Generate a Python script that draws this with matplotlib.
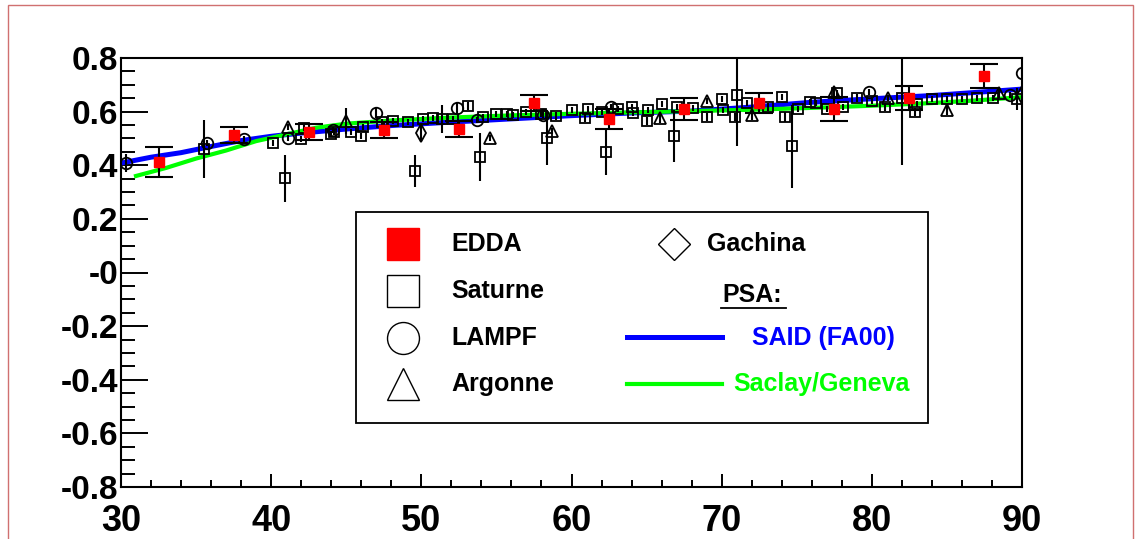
import matplotlib.pyplot as plt
from matplotlib.lines import Line2D
from matplotlib.patches import Rectangle

# analyzing power vs. c.m. angle

# EDDA (red squares with capped error bars)
edda_x = [32.5, 37.5, 42.5, 47.5, 52.5, 57.5, 62.5, 67.5, 72.5, 77.5, 82.5, 87.5]
edda_y = [0.412, 0.513, 0.524, 0.531, 0.535, 0.632, 0.572, 0.610, 0.632, 0.610, 0.651, 0.733]
edda_e = [0.056, 0.03, 0.03, 0.03, 0.03, 0.03, 0.037, 0.04, 0.037, 0.045, 0.045, 0.045]

# Saturne (open squares)
sat_x = [35.5, 40.1, 40.9, 42.0, 42.2, 44.0, 44.2, 45.3, 46.0, 46.1, 47.4, 48.1,
         49.1, 49.6, 50.1, 50.8, 51.4, 52.1, 53.1, 53.9, 54.1, 55.0, 55.7, 56.1,
         57.0, 58.0, 58.4, 59.0, 60.0, 60.9, 61.1, 62.0, 62.3, 63.1, 64.0, 64.1,
         65.0, 65.1, 66.0, 66.8, 67.0, 68.1, 69.0, 70.0, 70.1, 70.9, 71.0, 71.7,
         73.1, 74.0, 74.2, 74.7, 75.1, 75.9, 76.3, 77.0, 77.7, 78.1, 79.0, 80.0,
         80.9, 82.0, 82.9, 83.0, 84.0, 85.0, 86.0, 87.0, 88.1, 89.7]
sat_y = [0.460, 0.483, 0.352, 0.498, 0.539, 0.516, 0.524, 0.524, 0.509, 0.543, 0.561, 0.565,
         0.561, 0.378, 0.572, 0.576, 0.572, 0.572, 0.621, 0.431, 0.580, 0.591, 0.591, 0.587,
         0.598, 0.591, 0.501, 0.584, 0.606, 0.576, 0.610, 0.598, 0.449, 0.610, 0.617, 0.595,
         0.565, 0.606, 0.628, 0.509, 0.617, 0.613, 0.580, 0.647, 0.606, 0.580, 0.662, 0.632,
         0.617, 0.654, 0.580, 0.470, 0.610, 0.636, 0.632, 0.610, 0.669, 0.617, 0.651, 0.640,
         0.617, 0.651, 0.598, 0.628, 0.647, 0.647, 0.647, 0.651, 0.651, 0.647]
sat_e = [0.108, 0.01, 0.088, 0.01, 0.01, 0.01, 0.01, 0.01, 0.01, 0.01, 0.01, 0.01,
         0.01, 0.06, 0.01, 0.01, 0.052, 0.01, 0.015, 0.09, 0.01, 0.01, 0.01, 0.01,
         0.01, 0.01, 0.10, 0.015, 0.01, 0.015, 0.01, 0.01, 0.084, 0.01, 0.01, 0.01,
         0.015, 0.01, 0.01, 0.097, 0.01, 0.01, 0.015, 0.01, 0.01, 0.015, 0.19, 0.01,
         0.015, 0.01, 0.02, 0.155, 0.01, 0.01, 0.01, 0.01, 0.01, 0.01, 0.015, 0.01,
         0.015, 0.25, 0.015, 0.01, 0.01, 0.01, 0.01, 0.01, 0.01, 0.04]

# LAMPF (open circles)
lampf_x = [30.3, 35.7, 38.2, 41.1, 44.1, 47.0, 52.4, 53.7, 58.1, 62.6, 79.8, 89.2, 90.0]
lampf_y = [0.408, 0.483, 0.498, 0.501, 0.531, 0.595, 0.613, 0.569, 0.587, 0.617, 0.673, 0.662, 0.744]
lampf_e = [0.035, 0.01, 0.01, 0.01, 0.01, 0.02, 0.02, 0.01, 0.01, 0.01, 0.01, 0.01, 0.01]

# Argonne (open triangles)
arg_x = [41.1, 45.0, 54.6, 58.7, 65.9, 69.0, 72.0, 77.5, 81.1, 85.0, 88.5]
arg_y = [0.543, 0.565, 0.501, 0.528, 0.576, 0.640, 0.587, 0.673, 0.651, 0.606, 0.669]
arg_e = [0.01, 0.05, 0.01, 0.01, 0.02, 0.01, 0.02, 0.02, 0.01, 0.02, 0.02]

# Gachina (open diamonds)
gat_x = [50.0, 90.0]
gat_y = [0.520, 0.662]
gat_e = [0.03, 0.02]

# PSA curves
said_x = [30, 32, 34, 36, 38, 40, 42, 45, 48, 52, 56, 60, 64, 68, 72, 76, 80, 84, 87, 90]
said_y = [0.408, 0.43, 0.447, 0.47, 0.492, 0.508, 0.52, 0.535, 0.548, 0.561, 0.573, 0.585,
          0.595, 0.602, 0.617, 0.635, 0.648, 0.66, 0.672, 0.684]
sg_x = [31, 33, 35, 37, 39, 41, 43, 45, 48, 52, 56, 60, 64, 68, 72, 76, 80, 84, 87, 90]
sg_y = [0.36, 0.39, 0.425, 0.455, 0.49, 0.515, 0.54, 0.555, 0.567, 0.578, 0.586, 0.592,
        0.597, 0.602, 0.607, 0.614, 0.622, 0.632, 0.642, 0.654]

yticks = [0.8, 0.6, 0.4, 0.2, 0.0, -0.2, -0.4, -0.6, -0.8]
ytick_labels = ['0.8', '0.6', '0.4', '0.2', '-0', '-0.2', '-0.4', '-0.6', '-0.8']
xticks = [30, 40, 50, 60, 70, 80, 90]

plt.rcParams['font.family'] = ['Liberation Sans', 'DejaVu Sans']
plt.rcParams['font.weight'] = 'bold'

W, H = 1141, 539
fig = plt.figure(figsize=(W / 100, H / 100), dpi=100)
ax = fig.add_axes([121 / W, 1 - 487 / H, (1022 - 121) / W, (487 - 58) / H])

# curves first, data on top
ax.plot(said_x, said_y, color='#0000ff', lw=3.6, zorder=2)
ax.plot(sg_x, sg_y, color='#00ff00', lw=3.0, zorder=2)

mk = dict(ls='none', color='black', mfc='none', mec='black', mew=1.3,
          elinewidth=1.5, capsize=0, zorder=3)
ax.errorbar(sat_x, sat_y, yerr=sat_e, marker='s', ms=7.8, **mk)
ax.errorbar(lampf_x, lampf_y, yerr=lampf_e, marker='o', ms=8.3, **mk)
ax.errorbar(arg_x, arg_y, yerr=arg_e, marker='^', ms=8.8, **mk)
ax.errorbar(gat_x, gat_y, yerr=gat_e, marker='d', ms=9, **mk)
ax.errorbar(edda_x, edda_y, yerr=edda_e, ls='none', marker='s', ms=7.8,
            mfc='#ff0000', mec='#ff0000', ecolor='black', elinewidth=1.5,
            capsize=10, capthick=1.5, zorder=4)

ax.set_xlim(30, 90)
ax.set_ylim(-0.8, 0.8)
ax.set_xticks(xticks)
ax.set_xticks(range(30, 91, 2), minor=True)
ax.set_yticks(yticks)
ax.set_yticklabels(ytick_labels)
ax.set_yticks([i * 0.05 - 0.8 for i in range(33)], minor=True)
for lbl in ax.get_xticklabels():
    lbl.set_family(['Liberation Sans Narrow', 'Liberation Sans'])
for s in ax.spines.values():
    s.set_linewidth(1.5)
ax.tick_params(axis='y', which='major', direction='in', length=19.5, width=1.4,
               labelsize=24, pad=2)
ax.tick_params(axis='y', which='minor', direction='in', length=10, width=1.4)
ax.tick_params(axis='x', which='major', direction='in', length=9.5, width=1.4,
               labelsize=26, pad=12)
ax.tick_params(axis='x', which='minor', direction='in', length=4.7, width=1.4)

# legend drawn by hand, figure pixel coordinates
def fx(px):
    return px / W

def fy(py):
    return 1 - py / H

fig.add_artist(Rectangle((fx(356), fy(423)), fx(928) - fx(356), fy(212) - fy(423),
                         transform=fig.transFigure, facecolor='white',
                         edgecolor='black', lw=1.3, zorder=5))
items = [('s', '#ff0000', 'EDDA', 244), ('s', 'none', 'Saturne', 291),
         ('o', 'none', 'LAMPF', 338), ('^', 'none', 'Argonne', 384)]
for m, fc, lab, py in items:
    ec = '#ff0000' if fc != 'none' else 'black'
    fig.add_artist(Line2D([fx(403)], [fy(py)], marker=m, ms=23, mfc=fc, mec=ec,
                          mew=1.0, transform=fig.transFigure, zorder=6))
    fig.text(fx(451), fy(py), lab, fontsize=18, fontweight='bold',
             va='center', ha='left', zorder=6)
fig.add_artist(Line2D([fx(674)], [fy(244)], marker='D', ms=16, mfc='none', mec='black',
                      mew=1.0, transform=fig.transFigure, zorder=6))
fig.text(fx(707), fy(244), 'Gachina', fontsize=18, fontweight='bold',
         va='center', ha='left', zorder=6)
fig.text(fx(722), fy(295), 'PSA:', fontsize=18, fontweight='bold',
         va='center', ha='left', zorder=6)
fig.add_artist(Line2D([fx(721), fx(786)], [fy(308), fy(308)], color='black', lw=1.3,
                      transform=fig.transFigure, zorder=6))
fig.add_artist(Line2D([fx(627), fx(722)], [fy(337), fy(337)], color='#0000ff', lw=3.6,
                      transform=fig.transFigure, zorder=6))
fig.text(fx(752), fy(338), 'SAID (FA00)', fontsize=18, fontweight='bold',
         color='#0000ff', va='center', ha='left', zorder=6)
fig.add_artist(Line2D([fx(627), fx(722)], [fy(384), fy(384)], color='#00ff00', lw=3.0,
                      transform=fig.transFigure, zorder=6))
fig.text(fx(733), fy(384), 'Saclay/Geneva', fontsize=18, fontweight='bold',
         color='#00ff00', va='center', ha='left', zorder=6)

# pad frame
fig.add_artist(Rectangle((fx(8), -0.02), fx(1133) - fx(8), fy(5) + 0.02,
                         transform=fig.transFigure, fill=False,
                         edgecolor='#d07070', lw=1.0, zorder=0))

fig.savefig('out.png', dpi=100)
